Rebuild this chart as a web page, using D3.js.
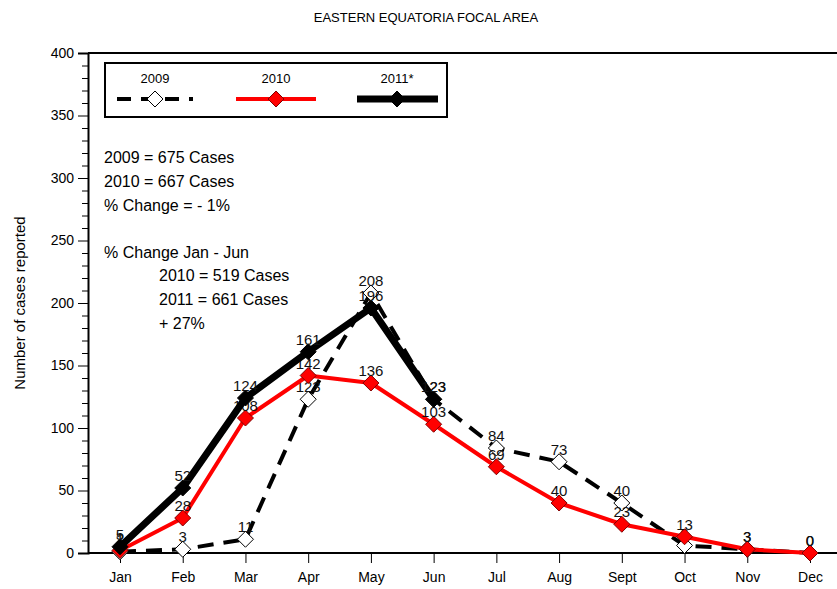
<!DOCTYPE html>
<html><head><meta charset="utf-8">
<script src="https://cdn.jsdelivr.net/npm/d3@7"></script>
<style>body{margin:0;background:#fff}svg{font-family:"Liberation Sans",Arial,sans-serif}</style>
</head><body><svg id="c" width="837" height="589"></svg>
<script>
const months = ["Jan","Feb","Mar","Apr","May","Jun","Jul","Aug","Sept","Oct","Nov","Dec"];
const cases2009 = [1,3,11,123,208,123,84,73,40,6,3,0];
const cases2010 = [2,28,108,142,136,103,69,40,23,13,3,0];
const cases2011 = [5,52,124,161,196,123];
const seriesNames = ["2009","2010","2011*"];
const yTicks = [0,50,100,150,200,250,300,350,400];
const notes1 = ["2009 = 675 Cases","2010 = 667 Cases","% Change = - 1%"];
const notes2 = ["% Change Jan - Jun"];
const notes3 = ["2010 = 519 Cases","2011 = 661 Cases","+ 27%"];

const svg = d3.select("#c");
const x = d3.scalePoint().domain(months).range([120, 810]);
const y = d3.scaleLinear().domain([0,400]).range([553, 53]);

svg.append("text").attr("x",426).attr("y",22).attr("text-anchor","middle")
  .attr("font-size",13).text("EASTERN EQUATORIA FOCAL AREA");

// frame top
svg.append("line").attr("x1",88).attr("x2",837).attr("y1",53).attr("y2",53).attr("stroke","#000").attr("stroke-width",2);

// y axis
const ya = svg.append("g").attr("transform","translate(88,0)")
  .call(d3.axisLeft(y).tickValues(yTicks).tickSize(10).tickPadding(4));
ya.select(".domain").attr("stroke-width",2);
ya.selectAll("text").attr("font-size",14).attr("font-family","Liberation Sans, Arial, sans-serif");
const minor = d3.range(0,401,10).filter(v=>v%50!==0);
svg.append("g").attr("transform","translate(88,0)")
  .call(d3.axisLeft(y).tickValues(minor).tickSize(6).tickFormat(""))
  .select(".domain").remove();

// x axis
const xa = svg.append("g").attr("transform","translate(0,553)")
  .call(d3.axisBottom(x).tickSize(10).tickPadding(9));
xa.select(".domain").attr("d","M88,0H837").attr("stroke-width",2);
xa.selectAll("text").attr("font-size",14).attr("font-family","Liberation Sans, Arial, sans-serif");

svg.append("text").attr("transform","translate(25,303) rotate(-90)")
  .attr("text-anchor","middle").attr("font-size",15).text("Number of cases reported");

const diamond = d3.symbol().type(d3.symbolDiamond2 || d3.symbolSquare).size(150);
function drawDiamond(g, cx, cy, fill, stroke){
  const s = 8;
  g.append("path").attr("d",`M${cx},${cy-s}L${cx+s},${cy}L${cx},${cy+s}L${cx-s},${cy}Z`)
    .attr("fill",fill).attr("stroke",stroke).attr("stroke-width",1);
}

const styles = [
  {data:cases2009, color:"#000", width:4, dash:"16,10", fill:"#fff", mstroke:"#000"},
  {data:cases2010, color:"#ff0000", width:4, dash:null, fill:"#ff0000", mstroke:"#800000"},
  {data:cases2011, color:"#000", width:7, dash:null, fill:"#000", mstroke:"#000"}
];
const line = d3.line().x((d,i)=>x(months[i])).y(d=>y(d));
styles.forEach(s=>{
  const g = svg.append("g");
  g.append("path").attr("d",line(s.data)).attr("fill","none").attr("stroke",s.color)
    .attr("stroke-width",s.width).attr("stroke-dasharray",s.dash).attr("stroke-linejoin","round");
  s.data.forEach((v,i)=>drawDiamond(g, x(months[i]), y(v), s.fill, s.mstroke));
  s.data.forEach((v,i)=>g.append("text").attr("x",x(months[i])).attr("y",y(v)-7)
    .attr("text-anchor","middle").attr("font-size",15).attr("fill","#111").text(v));
});

// legend
const lg = svg.append("g");
lg.append("rect").attr("x",105).attr("y",63).attr("width",342).attr("height",54)
  .attr("fill","#fff").attr("stroke","#000").attr("stroke-width",2);
const lx = [155,276,397], lw=[[117,193],[236,316],[357,438]];
styles.forEach((s,i)=>{
  lg.append("text").attr("x",lx[i]).attr("y",83).attr("text-anchor","middle").attr("font-size",13).text(seriesNames[i]);
  lg.append("line").attr("x1",lw[i][0]).attr("x2",lw[i][1]).attr("y1",99).attr("y2",99)
    .attr("stroke",s.color).attr("stroke-width",s.width).attr("stroke-dasharray",i===0?"14,10":null);
  drawDiamond(lg, lx[i], 99, s.fill, s.mstroke);
});

// notes
notes1.forEach((t,i)=>svg.append("text").attr("x",104).attr("y",163+24*i).attr("font-size",16).text(t));
notes2.forEach((t,i)=>svg.append("text").attr("x",104).attr("y",258).attr("font-size",16).text(t));
notes3.forEach((t,i)=>svg.append("text").attr("x",159).attr("y",281+24*i).attr("font-size",16).text(t));
</script></body></html>
